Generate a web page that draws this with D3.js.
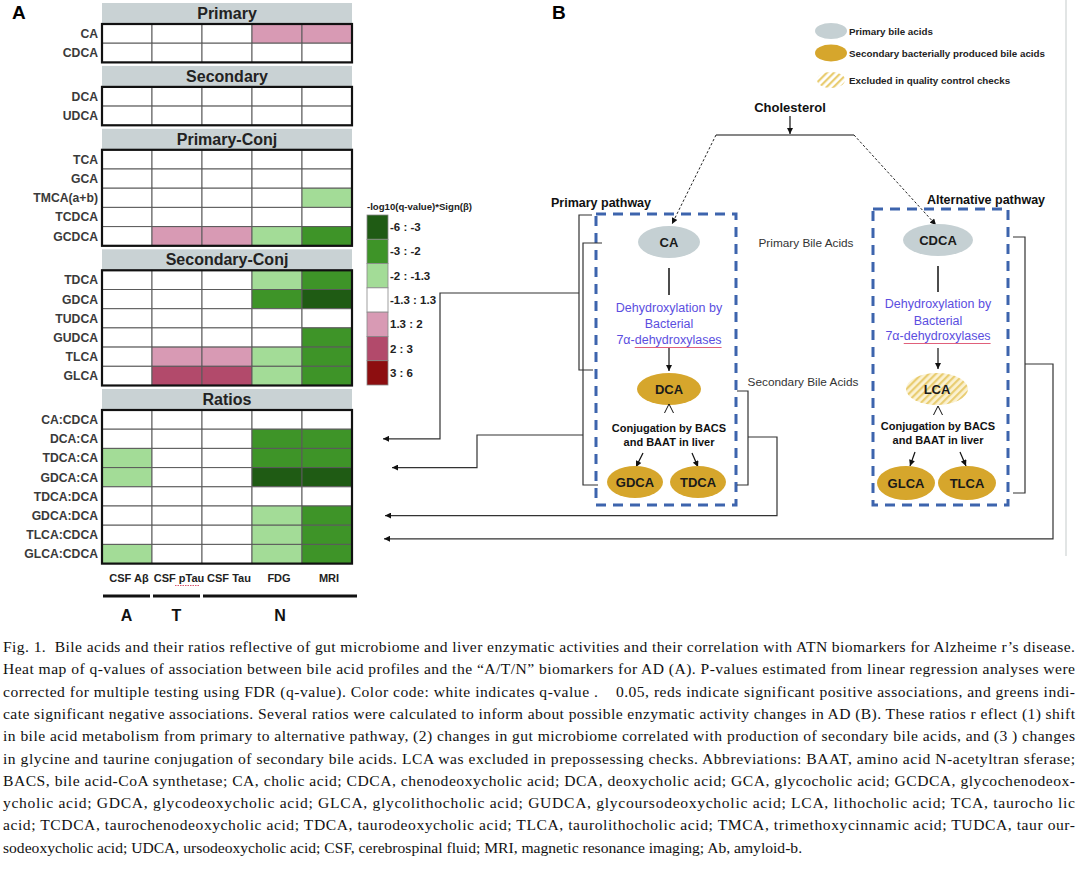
<!DOCTYPE html>
<html>
 <head>
  <meta charset="utf-8">
  <title>Bile acids heat map and pathway</title>
  <script src="https://cdnjs.cloudflare.com/ajax/libs/d3/7.8.5/d3.min.js"></script>
  <style>
    body { margin: 0; background: #fff; }
    text { font-family: "Liberation Sans", Arial, sans-serif; }
    .cap { font-family: "Liberation Serif", "Times New Roman", serif; font-size: 15.6px; fill: #111; }
  </style>
 </head>
 <body>
  <svg id="fig" width="1080" height="870"></svg>

  <script>
    // ---- data ----
    var columns = ["CSF Aβ", "CSF pTau", "CSF Tau", "FDG", "MRI"];
    var groups = ["Primary", "Secondary", "Primary-Conj", "Secondary-Conj", "Ratios"];

    var rowsPrimary = ["CA", "CDCA"];
    var rowsSecondary = ["DCA", "UDCA"];
    var rowsPrimaryConj = ["TCA", "GCA", "TMCA(a+b)", "TCDCA", "GCDCA"];
    var rowsSecondaryConj = ["TDCA", "GDCA", "TUDCA", "GUDCA", "TLCA", "GLCA"];
    var rowsRatios = ["CA:CDCA", "DCA:CA", "TDCA:CA", "GDCA:CA", "TDCA:DCA", "GDCA:DCA", "TLCA:CDCA", "GLCA:CDCA"];

    // -log10(q) * sign(beta), estimated from the colour classes
    var valsPrimary = [
      [0, 0, 0, 1.6, 1.6],
      [0, 0, 0, 0, 0]
    ];
    var valsSecondary = [
      [0, 0, 0, 0, 0],
      [0, 0, 0, 0, 0]
    ];
    var valsPrimaryConj = [
      [0, 0, 0, 0, 0],
      [0, 0, 0, 0, 0],
      [0, 0, 0, 0, -1.6],
      [0, 0, 0, 0, 0],
      [0, 1.6, 1.6, -1.6, -2.5]
    ];
    var valsSecondaryConj = [
      [0, 0, 0, -1.6, -2.5],
      [0, 0, 0, -2.5, -3.5],
      [0, 0, 0, 0, 0],
      [0, 0, 0, 0, -2.5],
      [0, 1.6, 1.6, -1.6, -2.5],
      [0, 2.5, 2.5, -1.6, -2.5]
    ];
    var valsRatios = [
      [0, 0, 0, 0, 0],
      [0, 0, 0, -2.5, -2.5],
      [-1.6, 0, 0, -2.5, -2.5],
      [-1.6, 0, 0, -3.5, -3.5],
      [0, 0, 0, 0, 0],
      [0, 0, 0, -1.6, -2.5],
      [0, 0, 0, -1.6, -2.5],
      [-1.6, 0, 0, -1.6, -2.5]
    ];

    var legendBreaks = [-3, -2, -1.3, 1.3, 2, 3];
    var legendColors = ["#1f5b14", "#3e9428", "#a3dc97", "#ffffff", "#d89ab4", "#b24a6b", "#8d0e10"];
    var legendLabels = ["-6 : -3", "-3 : -2", "-2 : -1.3", "-1.3 : 1.3", "1.3 : 2", "2 : 3", "3 : 6"];

    var atnGroups = ["A", "T", "N"];
    var atnSpans = [[0, 0], [1, 1], [2, 4]];

    var captionLines = [
      "Fig. 1.  Bile acids and their ratios reflective of gut microbiome and liver enzymatic activities and their correlation with ATN biomarkers for Alzheime r’s disease.",
      "Heat map of q-values of association between bile acid profiles and the “A/T/N” biomarkers for AD (A). P-values estimated from linear regression analyses were",
      "corrected for multiple testing using FDR (q-value). Color code: white indicates q-value .    0.05, reds indicate significant positive associations, and greens indi-",
      "cate significant negative associations. Several ratios were calculated to inform about possible enzymatic activity changes in AD (B). These ratios r eflect (1) shift",
      "in bile acid metabolism from primary to alternative pathway, (2) changes in gut microbiome correlated with production of secondary bile acids, and (3 ) changes",
      "in glycine and taurine conjugation of secondary bile acids. LCA was excluded in prepossessing checks. Abbreviations: BAAT, amino acid N-acetyltran sferase;",
      "BACS, bile acid-CoA synthetase; CA, cholic acid; CDCA, chenodeoxycholic acid; DCA, deoxycholic acid; GCA, glycocholic acid; GCDCA, glycochenodeox-",
      "ycholic acid; GDCA, glycodeoxycholic acid; GLCA, glycolithocholic acid; GUDCA, glycoursodeoxycholic acid; LCA, lithocholic acid; TCA, taurocho lic",
      "acid; TCDCA, taurochenodeoxycholic acid; TDCA, taurodeoxycholic acid; TLCA, taurolithocholic acid; TMCA, trimethoxycinnamic acid; TUDCA, taur our-",
      "sodeoxycholic acid; UDCA, ursodeoxycholic acid; CSF, cerebrospinal fluid; MRI, magnetic resonance imaging; Ab, amyloid-b."
    ];

    var groupRows = [rowsPrimary, rowsSecondary, rowsPrimaryConj, rowsSecondaryConj, rowsRatios];
    var groupVals = [valsPrimary, valsSecondary, valsPrimaryConj, valsSecondaryConj, valsRatios];

    // ---- setup ----
    var svg = d3.select("#fig");
    svg.append("rect").attr("width", 1080).attr("height", 870).attr("fill", "#fff");

    var defs = svg.append("defs");
    defs.append("marker")
        .attr("id", "arr").attr("viewBox", "0 0 10 10")
        .attr("refX", 10).attr("refY", 5)
        .attr("markerWidth", 7).attr("markerHeight", 6)
        .attr("markerUnits", "userSpaceOnUse")
        .attr("orient", "auto")
      .append("path").attr("d", "M0,0 L10,5 L0,10 z").attr("fill", "#111");

    function hatch(id, bg) {
      var p = defs.append("pattern")
          .attr("id", id).attr("width", 5).attr("height", 5)
          .attr("patternUnits", "userSpaceOnUse")
          .attr("patternTransform", "rotate(45)");
      p.append("rect").attr("width", 5).attr("height", 5).attr("fill", bg);
      p.append("rect").attr("width", 2.2).attr("height", 5).attr("fill", "#e9cd72");
    }
    hatch("hatchLeg", "#ffffff");
    hatch("hatchLCA", "#fbf2d3");

    // ---- panel A: heat map ----
    var x = d3.scaleBand().domain(columns).range([102, 352]);
    var color = d3.scaleThreshold().domain(legendBreaks).range(legendColors);

    var rowH = 19.2, headH = 21, gap = 3.5;
    var yTop = 3;

    svg.append("text").attr("x", 12).attr("y", 19)
        .attr("font-size", 19).attr("font-weight", "bold").text("A");

    groups.forEach(function(g, gi) {
      var rows = groupRows[gi], vals = groupVals[gi];
      var gA = svg.append("g");

      gA.append("rect")
          .attr("x", x.range()[0]).attr("y", yTop)
          .attr("width", x.range()[1] - x.range()[0]).attr("height", headH)
          .attr("fill", "#c9d2d4");
      gA.append("text")
          .attr("x", (x.range()[0] + x.range()[1]) / 2).attr("y", yTop + headH / 2 + 5.5)
          .attr("text-anchor", "middle").attr("font-size", 16).attr("font-weight", "bold")
          .attr("fill", "#222").text(g);

      var y0 = yTop + headH;
      var y = d3.scaleBand().domain(rows).range([y0, y0 + rows.length * rowH]);

      rows.forEach(function(r, ri) {
        gA.selectAll(null).data(vals[ri]).enter().append("rect")
            .attr("x", function(d, ci) { return x(columns[ci]); })
            .attr("y", y(r))
            .attr("width", x.bandwidth()).attr("height", y.bandwidth())
            .attr("fill", function(d) { return color(d); })
            .attr("stroke", "#5a5a5a").attr("stroke-width", 1);
        gA.append("text")
            .attr("x", x.range()[0] - 4).attr("y", y(r) + y.bandwidth() / 2 + 4.4)
            .attr("text-anchor", "end").attr("font-size", 12.2).attr("font-weight", "bold")
            .attr("fill", "#3a3a3a").text(r);
      });

      gA.append("rect")
          .attr("x", x.range()[0]).attr("y", y.range()[0])
          .attr("width", x.range()[1] - x.range()[0]).attr("height", y.range()[1] - y.range()[0])
          .attr("fill", "none").attr("stroke", "#111").attr("stroke-width", 2.2);

      yTop = y.range()[1] + gap;
    });

    // column labels
    svg.selectAll(".collab").data(columns).enter().append("text")
        .attr("class", "collab")
        .attr("x", function(d) { return x(d) + x.bandwidth() / 2 + 2; })
        .attr("y", 582)
        .attr("text-anchor", "middle").attr("font-size", 11).attr("font-weight", "bold")
        .attr("fill", "#222").text(function(d) { return d; });
    // spell-check mark under pTau
    svg.append("line")
        .attr("x1", x("CSF pTau") + 23).attr("x2", x("CSF pTau") + 47)
        .attr("y1", 585.5).attr("y2", 585.5)
        .attr("stroke", "#d9556f").attr("stroke-width", 1).attr("stroke-dasharray", "1.5,1");

    // A / T / N brackets
    atnGroups.forEach(function(a, i) {
      var x1 = x(columns[atnSpans[i][0]]) + 1;
      var x2 = x(columns[atnSpans[i][1]]) + x.bandwidth() - 2 + (i === 2 ? 7 : 0);
      svg.append("line").attr("x1", x1).attr("x2", x2).attr("y1", 596).attr("y2", 596)
          .attr("stroke", "#111").attr("stroke-width", 3);
      svg.append("text").attr("x", (x1 + x2) / 2).attr("y", 621)
          .attr("text-anchor", "middle").attr("font-size", 16).attr("font-weight", "bold")
          .attr("fill", "#111").text(a);
    });

    // colour legend
    var lg = svg.append("g");
    lg.append("text").attr("x", 367).attr("y", 210)
        .attr("font-size", 9.6).attr("font-weight", "bold").attr("fill", "#222")
        .text("-log10(q-value)*Sign(β)");
    var ly = d3.scaleBand().domain(legendLabels).range([215, 385]);
    lg.selectAll("rect").data(legendLabels).enter().append("rect")
        .attr("x", 367).attr("y", function(d) { return ly(d); })
        .attr("width", 21).attr("height", ly.bandwidth())
        .attr("fill", function(d, i) { return legendColors[i]; })
        .attr("stroke", "#888").attr("stroke-width", 0.8);
    lg.selectAll(".ll").data(legendLabels).enter().append("text")
        .attr("class", "ll")
        .attr("x", 390).attr("y", function(d) { return ly(d) + ly.bandwidth() / 2 + 4; })
        .attr("font-size", 11.5).attr("font-weight", "bold").attr("fill", "#222")
        .text(function(d) { return d; });

    // ---- panel B: pathway diagram ----
    var b = svg.append("g");
    b.append("line").attr("x1", 1066).attr("x2", 1066).attr("y1", 0).attr("y2", 556)
        .attr("stroke", "#d8dcdd").attr("stroke-width", 1.5);
    b.append("text").attr("x", 552).attr("y", 19)
        .attr("font-size", 19).attr("font-weight", "bold").text("B");

    // legend
    b.append("ellipse").attr("cx", 831).attr("cy", 31).attr("rx", 16).attr("ry", 8).attr("fill", "#c5d0d3");
    b.append("ellipse").attr("cx", 831).attr("cy", 53).attr("rx", 16).attr("ry", 8.5).attr("fill", "#d6a62c");
    b.append("ellipse").attr("cx", 831).attr("cy", 80).attr("rx", 14).attr("ry", 8).attr("fill", "url(#hatchLeg)");
    [["Primary bile acids", 31], ["Secondary bacterially produced bile acids", 53], ["Excluded in quality control checks", 80]]
      .forEach(function(t) {
        b.append("text").attr("x", 849).attr("y", t[1] + 3.5)
            .attr("font-size", 9.8).attr("font-weight", "bold").attr("fill", "#222").text(t[0]);
      });

    // cholesterol split
    b.append("text").attr("x", 790).attr("y", 112).attr("text-anchor", "middle")
        .attr("font-size", 13).attr("font-weight", "bold").attr("fill", "#111").text("Cholesterol");
    b.append("line").attr("x1", 790).attr("x2", 790).attr("y1", 116).attr("y2", 134)
        .attr("stroke", "#111").attr("stroke-width", 1.2).attr("marker-end", "url(#arr)");
    b.append("line").attr("x1", 716).attr("x2", 854).attr("y1", 135).attr("y2", 135)
        .attr("stroke", "#111").attr("stroke-width", 1.2);
    b.append("line").attr("x1", 716).attr("y1", 135).attr("x2", 672).attr("y2", 224)
        .attr("stroke", "#222").attr("stroke-width", 1).attr("stroke-dasharray", "2.5,2")
        .attr("marker-end", "url(#arr)");
    b.append("line").attr("x1", 854).attr("y1", 135).attr("x2", 936).attr("y2", 225)
        .attr("stroke", "#222").attr("stroke-width", 1).attr("stroke-dasharray", "2.5,2")
        .attr("marker-end", "url(#arr)");

    function node(cx, cy, rx, ry, fill, label) {
      b.append("ellipse").attr("cx", cx).attr("cy", cy).attr("rx", rx).attr("ry", ry).attr("fill", fill);
      b.append("text").attr("x", cx).attr("y", cy + 4.7).attr("text-anchor", "middle")
          .attr("font-size", 13).attr("font-weight", "bold").attr("fill", "#1a1a1a").text(label);
    }
    function arrow(x1, y1, x2, y2) {
      b.append("line").attr("x1", x1).attr("y1", y1).attr("x2", x2).attr("y2", y2)
          .attr("stroke", "#111").attr("stroke-width", 1.2).attr("marker-end", "url(#arr)");
    }
    function blueText(cx, ys) {
      var lines = ["Dehydroxylation by", "Bacterial", "7α-dehydroxylases"];
      lines.forEach(function(l, i) {
        var t = b.append("text").attr("x", cx).attr("y", ys[i]).attr("text-anchor", "middle")
            .attr("font-size", 12.5).attr("fill", "#5b4ee0").text(l);
        if (i === 2) {
          var n = t.node();
          var sx = n.getStartPositionOfChar(3).x;
          var w = n.getSubStringLength(3, l.length - 3);
          b.append("line").attr("x1", sx).attr("x2", sx + w).attr("y1", ys[i] + 3.5).attr("y2", ys[i] + 3.5)
              .attr("stroke", "#e0607a").attr("stroke-width", 1);
        }
      });
    }
    function conjText(cx, y1) {
      ["Conjugation by BACS", "and BAAT in liver"].forEach(function(l, i) {
        b.append("text").attr("x", cx).attr("y", y1 + i * 14).attr("text-anchor", "middle")
            .attr("font-size", 11).attr("font-weight", "bold").attr("fill", "#111").text(l);
      });
    }
    function caret(cx, y1) {
      b.append("path").attr("d", "M" + (cx - 4.5) + "," + (y1 + 9) + " L" + cx + "," + y1 + " L" + (cx + 4.5) + "," + (y1 + 9))
          .attr("fill", "none").attr("stroke", "#111").attr("stroke-width", 1);
    }
    function box(x0, y0, w, h) {
      b.append("rect").attr("x", x0).attr("y", y0).attr("width", w).attr("height", h)
          .attr("fill", "none").attr("stroke", "#3d64ad").attr("stroke-width", 3)
          .attr("stroke-dasharray", "10,7");
    }

    // primary pathway
    b.append("text").attr("x", 601).attr("y", 207).attr("text-anchor", "middle")
        .attr("font-size", 12.5).attr("font-weight", "bold").attr("fill", "#111").text("Primary pathway");
    box(596, 214, 140, 291);
    node(669, 242, 31, 16, "#c5d0d3", "CA");
    b.append("line").attr("x1", 669).attr("x2", 669).attr("y1", 268).attr("y2", 295)
        .attr("stroke", "#111").attr("stroke-width", 1.5);
    blueText(669, [312, 328, 344]);
    arrow(669, 348, 669, 371);
    node(669, 389, 32, 16, "#d6a62c", "DCA");
    caret(669, 404);
    conjText(669, 432);
    arrow(643, 453, 636, 467);
    arrow(692, 453, 698, 467);
    node(635, 482, 28, 16, "#d6a62c", "GDCA");
    node(698, 482, 28, 16, "#d6a62c", "TDCA");

    // alternative pathway
    b.append("text").attr("x", 986).attr("y", 204).attr("text-anchor", "middle")
        .attr("font-size", 12.5).attr("font-weight", "bold").attr("fill", "#111").text("Alternative pathway");
    box(873, 209, 135, 296);
    node(938, 240, 35, 16, "#c5d0d3", "CDCA");
    b.append("line").attr("x1", 938).attr("x2", 938).attr("y1", 266).attr("y2", 292)
        .attr("stroke", "#111").attr("stroke-width", 1.5);
    blueText(938, [308, 325, 340]);
    arrow(938, 348, 938, 369);
    node(937, 389, 31, 16, "url(#hatchLCA)", "LCA");
    caret(938, 406);
    conjText(938, 430);
    arrow(915, 452, 910, 466);
    arrow(960, 452, 966, 466);
    node(906, 483, 29, 17, "#d6a62c", "GLCA");
    node(967, 483, 29, 17, "#d6a62c", "TLCA");

    // side labels
    b.append("text").attr("x", 806).attr("y", 247).attr("text-anchor", "middle")
        .attr("font-size", 11.8).attr("fill", "#333").text("Primary Bile Acids");
    b.append("text").attr("x", 803).attr("y", 386).attr("text-anchor", "middle")
        .attr("font-size", 11.8).attr("fill", "#333").text("Secondary Bile Acids");

    // brackets and links back to the ratio rows
    var ratioY = d3.scaleBand().domain(rowsRatios).range([410, 410 + rowsRatios.length * rowH]);
    function rowMid(r) { return ratioY(r) + ratioY.bandwidth() / 2; }

    function path(d, arrowed) {
      var p = b.append("path").attr("d", d).attr("fill", "none")
          .attr("stroke", "#333").attr("stroke-width", 1.2);
      if (arrowed) p.attr("marker-end", "url(#arr)");
    }
    // DCA:CA
    path("M592,215 H579 V370 H593");
    path("M579,293 H440 V" + rowMid("DCA:CA") + " H383", true);
    // TDCA:CA / GDCA:CA
    path("M602,243 H583 V485 H598");
    path("M583,435 H477 V" + (ratioY("GDCA:CA")) + " H392", true);
    // GDCA:DCA
    path("M737,391 H748 V485 H737");
    path("M748,437 H777 V" + rowMid("GDCA:DCA") + " H385", true);
    // TLCA:CDCA
    path("M1013,237 H1025 V493 H1013");
    path("M1025,364 H1053 V" + (rowMid("TLCA:CDCA") + 4) + " H384", true);

    // ---- caption ----
    var cap = svg.append("g");
    captionLines.forEach(function(l, i) {
      var t = cap.append("text").attr("class", "cap").attr("x", 3).attr("y", 652 + i * 22.3)
          .attr("xml:space", "preserve").text(l);
      if (i < captionLines.length - 1) {
        t.attr("textLength", 1072).attr("lengthAdjust", "spacing");
      }
    });
  </script>
 </body>
</html>
